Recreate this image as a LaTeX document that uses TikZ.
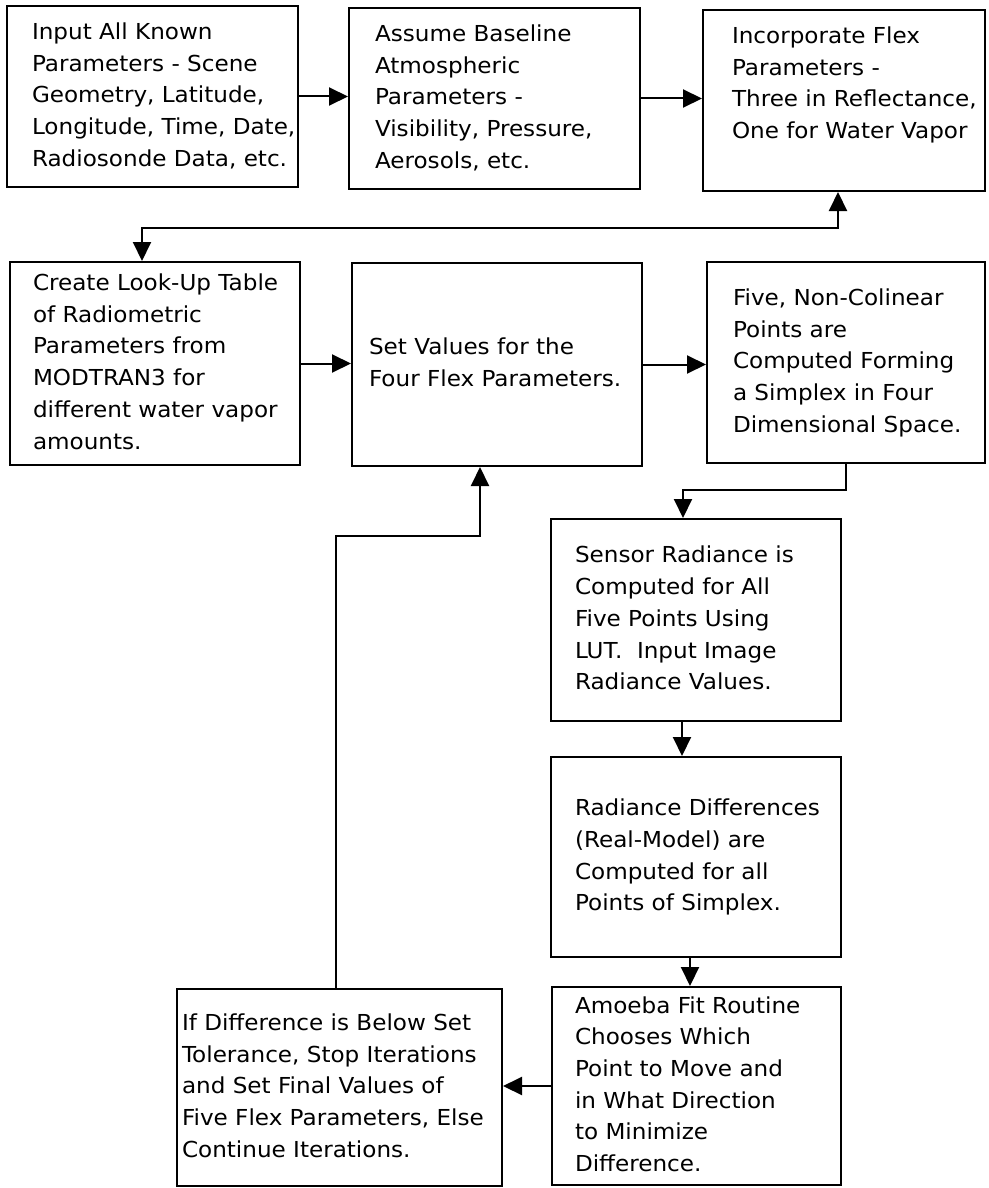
\documentclass[tikz,border=0pt]{standalone}
\usepackage{fontspec}
\newfontfamily\flowfont[FakeStretch=1.05]{DejaVu Sans}
\usepackage{tikz}
\usetikzlibrary{positioning,arrows.meta,calc}
\newcommand{\boxlines}[1]{\begin{tabular}{@{}l@{}}#1\end{tabular}}

\begin{document}
\begin{tikzpicture}[
    x=1pt, y=-1pt,
    stage/.style={draw, line width=2pt, align=left, inner sep=0pt,
                  font=\flowfont\fontsize{22}{31.7}\selectfont},
    flow/.style={line width=2pt, -{Triangle[length=19pt,width=18pt]}},
    flowboth/.style={line width=2pt,
                     {Triangle[length=19pt,width=18pt]}-{Triangle[length=19pt,width=18pt]}},
]
\useasboundingbox (0,0) rectangle (988,1188);

% first row
\node[stage, minimum width=291pt, minimum height=181pt, text width=241pt]
    (known) at (152.5,96.5)
    {\boxlines{Input All Known\\ Parameters - Scene\\ Geometry, Latitude,\\
     Longitude, Time, Date,\\ Radiosonde Data, etc.}};
\node[stage, minimum width=291pt, minimum height=181pt, text width=239pt]
    (baseline) at (494.5,98.5)
    {\boxlines{Assume Baseline\\ Atmospheric\\ Parameters -\\
     Visibility, Pressure,\\ Aerosols, etc.}};
\node[stage, minimum width=282pt, minimum height=181pt, text width=224pt]
    (flex) at (844,100.5)
    {\boxlines{Incorporate Flex\\ Parameters -\\ Three in Reflectance,\\
     One for Water Vapor\\ \mbox{}}};

% second row
\node[stage, minimum width=290pt, minimum height=203pt, text width=244pt]
    (lut) at (155,363.5)
    {\boxlines{Create Look-Up Table\\ of Radiometric\\ Parameters from\\
     MODTRAN3 for\\ different water vapor\\ amounts.}};
\node[stage, minimum width=290pt, minimum height=203pt, text width=256pt]
    (setvals) at (497,364.5)
    {\boxlines{Set Values for the\\ Four Flex Parameters.}};
\node[stage, minimum width=278pt, minimum height=201pt, text width=226pt]
    (simplex) at (846,362.5)
    {\boxlines{Five, Non-Colinear\\ Points are\\ Computed Forming\\
     a Simplex in Four\\ Dimensional Space.}};

% right column
\node[stage, minimum width=290pt, minimum height=202pt, text width=242pt]
    (radiance) at (696,620)
    {\boxlines{Sensor Radiance is\\ Computed for All\\ Five Points Using\\
     LUT.\ \ Input Image\\ Radiance Values.}};
\node[stage, minimum width=290pt, minimum height=200pt, text width=242pt]
    (diff) at (696,857)
    {\boxlines{Radiance Differences\\ (Real-Model) are\\ Computed for all\\
     Points of Simplex.}};
\node[stage, minimum width=289pt, minimum height=198pt, text width=243pt]
    (amoeba) at (696.5,1086)
    {\boxlines{Amoeba Fit Routine\\ Chooses Which\\ Point to Move and\\
     in What Direction\\ to Minimize\\ Difference.}};
\node[stage, minimum width=325pt, minimum height=197pt, text width=315pt]
    (tolerance) at (339.5,1087.5)
    {\boxlines{If Difference is Below Set\\ Tolerance, Stop Iterations\\
     and Set Final Values of\\ Five Flex Parameters, Else\\ Continue Iterations.}};

% connectors
\draw[flow] (known.east) -- (known.east -| baseline.west);
\draw[flow] (baseline.east) -- (baseline.east -| flex.west);
\draw[flowboth] ([xshift=-13pt]lut.north) -- ++(0,-33) -| ([xshift=-6pt]flex.south);
\draw[flow] (lut.east) -- (lut.east -| setvals.west);
\draw[flow] (setvals.east) -- (setvals.east -| simplex.west);
\draw[flow] (simplex.south) -- ++(0,26) -| ([xshift=-13pt]radiance.north);
\draw[flow] ([xshift=-14pt]radiance.south) -- ([xshift=-14pt]radiance.south |- diff.north);
\draw[flow] ([xshift=-6pt]diff.south) -- ([xshift=-6pt]diff.south |- amoeba.north);
\draw[flow] (amoeba.west) -- (amoeba.west -| tolerance.east);
\draw[flow] ([xshift=-4pt]tolerance.north) -- ++(0,-452) -| ([xshift=-17pt]setvals.south);
\end{tikzpicture}
\end{document}
